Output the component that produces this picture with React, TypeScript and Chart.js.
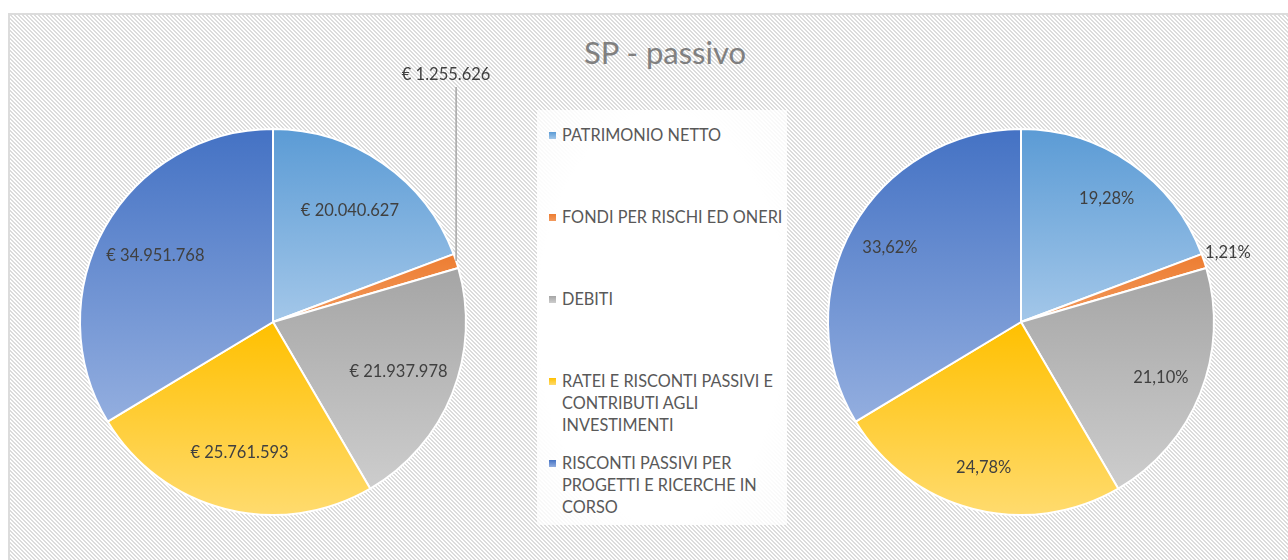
import React, { useEffect, useRef } from "react";
import { Chart, registerables } from "chart.js";

Chart.register(...registerables);

const title = "SP - passivo";
const categories = [
  "PATRIMONIO NETTO",
  "FONDI PER RISCHI ED ONERI",
  "DEBITI",
  "RATEI E RISCONTI PASSIVI E CONTRIBUTI AGLI INVESTIMENTI",
  "RISCONTI PASSIVI PER PROGETTI E RICERCHE IN CORSO",
];
const values = [20040627, 1255626, 21937978, 25761593, 34951768];
const topColors = ["#5B9BD5", "#ED7D31", "#A5A5A5", "#FFC000", "#4472C4"];
const bottomColors = ["#A3C7E9", "#F29A5E", "#CDCDCD", "#FFDB6E", "#93AEDF"];

const RADIUS = 193;
const FONT = "Lato, 'Open Sans', sans-serif";

const total = values.reduce((a, b) => a + b, 0);
const valueLabels = values.map(
  (v) => "€ " + String(v).replace(/\B(?=(\d{3})+(?!\d))/g, ".")
);
const percentLabels = values.map(
  (v) => ((v / total) * 100).toFixed(2).replace(".", ",") + "%"
);

function sliceGradient(c: any) {
  const i = c.dataIndex;
  if (i == null) return topColors[0];
  const chart = c.chart;
  const area = chart.chartArea;
  if (!area) return topColors[i];
  const cx = (area.left + area.right) / 2;
  const cy = (area.top + area.bottom) / 2;
  let cum = 0;
  for (let k = 0; k < i; k++) cum += values[k];
  const a0 = -Math.PI / 2 + (2 * Math.PI * cum) / total;
  const a1 = a0 + (2 * Math.PI * values[i]) / total;
  let minY = cy;
  let maxY = cy;
  const check = (a: number) => {
    const y = cy + RADIUS * Math.sin(a);
    minY = Math.min(minY, y);
    maxY = Math.max(maxY, y);
  };
  check(a0);
  check(a1);
  for (const t of [-Math.PI / 2, Math.PI / 2, (3 * Math.PI) / 2]) {
    if (t >= a0 && t <= a1) check(t);
  }
  if (maxY - minY < 1) maxY = minY + 1;
  const g = chart.ctx.createLinearGradient(0, minY, 0, maxY);
  g.addColorStop(0, topColors[i]);
  g.addColorStop(1, bottomColors[i]);
  return g;
}

const labelPlugin = {
  id: "sliceLabels",
  afterDatasetsDraw(chart: any, _args: any, opts: any) {
    const ctx = chart.ctx;
    const meta = chart.getDatasetMeta(0);
    ctx.save();
    ctx.font = `16.5px ${FONT}`;
    ctx.fillStyle = "#404040";
    ctx.textAlign = "center";
    ctx.textBaseline = "middle";
    meta.data.forEach((arc: any, i: number) => {
      const p = arc.getProps(
        ["x", "y", "startAngle", "endAngle", "outerRadius"],
        true
      );
      const mid = (p.startAngle + p.endAngle) / 2;
      const text = opts.labels[i];
      const small = values[i] / total < 0.05;
      if (small && opts.mode === "callout") {
        const ex = p.x + Math.cos(mid) * p.outerRadius;
        const ey = p.y + Math.sin(mid) * p.outerRadius;
        const ly = p.y - p.outerRadius - 54;
        ctx.strokeStyle = "#A6A6A6";
        ctx.lineWidth = 1.5;
        ctx.beginPath();
        ctx.moveTo(ex, ey);
        ctx.lineTo(ex, ly + 12);
        ctx.stroke();
        ctx.fillText(text, ex - 10, ly);
      } else if (small) {
        const f = 1.13;
        ctx.fillText(
          text,
          p.x + Math.cos(mid) * p.outerRadius * f,
          p.y + Math.sin(mid) * p.outerRadius * f
        );
      } else {
        const f = opts.factor;
        ctx.fillText(
          text,
          p.x + Math.cos(mid) * p.outerRadius * f,
          p.y + Math.sin(mid) * p.outerRadius * f
        );
      }
    });
    ctx.restore();
  },
};

function PieCanvas(props: {
  left: number;
  width: number;
  labels: string[];
  mode: string;
  factor: number;
}) {
  const ref = useRef<HTMLCanvasElement>(null);
  useEffect(() => {
    if (!ref.current) return;
    const chart = new Chart(ref.current, {
      type: "pie",
      data: {
        labels: categories,
        datasets: [
          {
            data: values,
            backgroundColor: sliceGradient as any,
            borderColor: "#ffffff",
            borderWidth: 2,
          },
        ],
      },
      options: {
        responsive: false,
        animation: false,
        radius: RADIUS,
        layout: { padding: { top: 64, bottom: 0, left: 0, right: 0 } },
        plugins: {
          legend: { display: false },
          tooltip: { enabled: false },
          title: { display: false },
          sliceLabels: {
            labels: props.labels,
            mode: props.mode,
            factor: props.factor,
          },
        } as any,
      } as any,
      plugins: [labelPlugin],
    });
    return () => chart.destroy();
  }, []);
  return (
    <canvas
      ref={ref}
      width={props.width}
      height={520}
      style={{
        position: "absolute",
        left: props.left,
        top: 30,
        width: props.width,
        height: 520,
      }}
    />
  );
}

function makeHatch(): string {
  const c = document.createElement("canvas");
  c.width = 4;
  c.height = 4;
  const g = c.getContext("2d")!;
  g.fillStyle = "#ffffff";
  g.fillRect(0, 0, 4, 4);
  g.fillStyle = "#dcdcdc";
  for (let y = 0; y < 4; y++) {
    for (let x = 0; x < 4; x++) {
      const d = (((x - y) % 4) + 4) % 4;
      if (d === 0 || d === 1) g.fillRect(x, y, 1, 1);
    }
  }
  return c.toDataURL();
}

export default function App() {
  const hatch = makeHatch();
  const legendTop = 110;
  return (
    <div
      style={{
        position: "fixed",
        left: 0,
        top: 0,
        width: 1288,
        height: 560,
        overflow: "hidden",
        background: "#ffffff",
        fontFamily: FONT,
      }}
    >
      <div
        style={{
          position: "absolute",
          left: 8,
          top: 13,
          width: 1400,
          height: 700,
          border: "2px solid #dcdcdc",
          backgroundImage: `url(${hatch})`,
          backgroundRepeat: "repeat",
        }}
      />
      <div
        style={{
          position: "absolute",
          left: 465,
          width: 400,
          top: 33,
          textAlign: "center",
          fontSize: 31,
          lineHeight: "38px",
          color: "#808080",
        }}
      >
        {title}
      </div>
      <div
        style={{
          position: "absolute",
          left: 537,
          top: legendTop,
          width: 250,
          height: 415,
          background:
            "radial-gradient(ellipse at center, rgba(255,255,255,1) 70%, rgba(255,255,255,0.75) 100%)",
        }}
      >
        {categories.map((c, i) => (
          <div
            key={c}
            style={{
              position: "absolute",
              left: 25,
              top: 14 + i * 82,
              width: 234,
              fontSize: 16.3,
              lineHeight: "22px",
              color: "#595959",
            }}
          >
            <span
              style={{
                position: "absolute",
                left: -13,
                top: 8,
                width: 7,
                height: 7,
                background: `linear-gradient(${topColors[i]}, ${bottomColors[i]})`,
              }}
            />
            {c}
          </div>
        ))}
      </div>
      <PieCanvas left={23} width={500} labels={valueLabels} mode="callout" factor={0.7} />
      <PieCanvas left={781} width={480} labels={percentLabels} mode="outside" factor={0.78} />
    </div>
  );
}
